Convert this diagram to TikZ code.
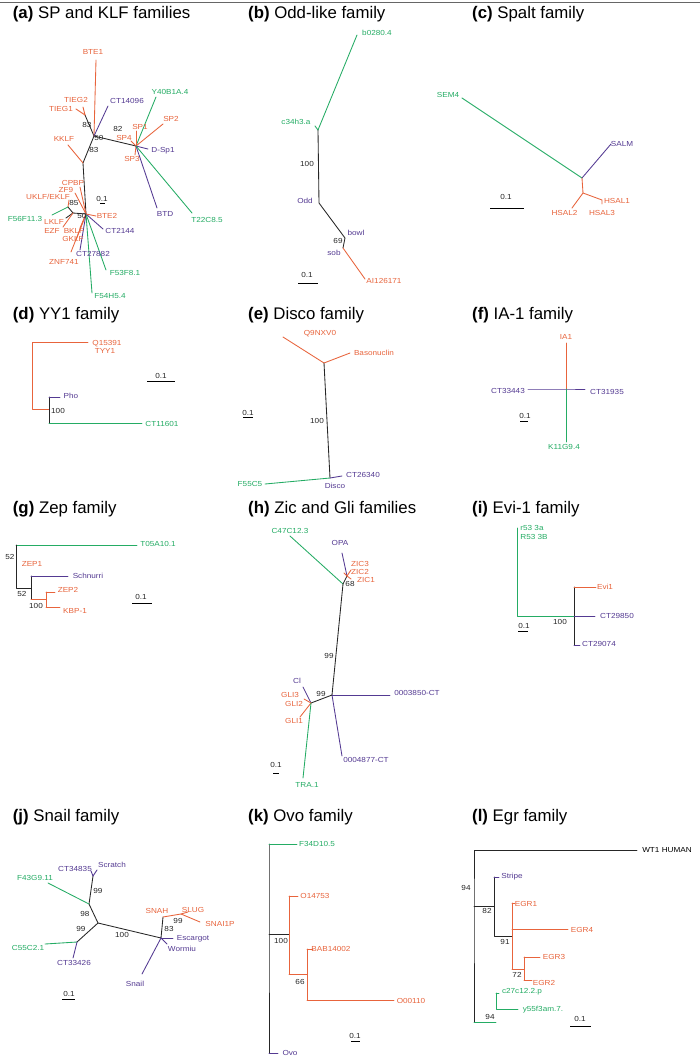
\documentclass[tikz,border=0pt]{standalone}
\usepackage{fontspec}
\setmainfont{Liberation Sans}
\newfontfamily\labfam[FakeStretch=1.12]{Liberation Sans}
\newcommand\labfont{\labfam\fontsize{7.3}{8.5}\selectfont}
\newcommand\ttlfont{\fontsize{16.8}{19}\selectfont}
\definecolor{orng}{RGB}{232,100,60}
\definecolor{purp}{RGB}{84,58,146}
\definecolor{grn}{RGB}{36,172,100}
\tikzset{
  lo/.style={font=\labfont, inner sep=0pt, text=orng},
  lp/.style={font=\labfont, inner sep=0pt, text=purp},
  lg/.style={font=\labfont, inner sep=0pt, text=grn},
  lk/.style={font=\labfont, inner sep=0pt, text=black},
  num/.style={font=\labfont, inner sep=0pt, text=black!85},
  ttl/.style={font=\ttlfont, anchor=base west, inner sep=0pt},
  br/.style={line width=0.85pt, line cap=round, line join=round},
  ob/.style={br, draw=orng},
  pb/.style={br, draw=purp},
  gb/.style={br, draw=grn},
  kb/.style={br, draw=black!85},
  sbar/.style={line width=0.9pt, draw=black},
}
\begin{document}
\begin{tikzpicture}[x=1pt,y=-1pt]
\fill[white] (0,0) rectangle (700,1061);
\useasboundingbox (0,0) rectangle (700,1061);
\draw[black!60, line width=0.7pt] (0,2) -- (700,2);

% ---------------- titles
\node[ttl] (ta) at (12.7,18) {\textbf{(a)} SP and KLF families};
\node[ttl] (tb) at (248,18) {\textbf{(b)} Odd-like family};
\node[ttl] (tc) at (472,18) {\textbf{(c)} Spalt family};
\node[ttl] (td) at (12.7,319) {\textbf{(d)} YY1 family};
\node[ttl] (te) at (248,319) {\textbf{(e)} Disco family};
\node[ttl] (tf) at (472,319) {\textbf{(f)} IA-1 family};
\node[ttl] (tg) at (12.7,513) {\textbf{(g)} Zep family};
\node[ttl] (th) at (248,513) {\textbf{(h)} Zic and Gli families};
\node[ttl] (ti) at (472,513) {\textbf{(i)} Evi-1 family};
\node[ttl] (tj) at (12.7,821) {\textbf{(j)} Snail family};
\node[ttl] (tk) at (248,821) {\textbf{(k)} Ovo family};
\node[ttl] (tl) at (472,821) {\textbf{(l)} Egr family};

% ---------------- (a)
\coordinate (aN1) at (94,136);
\coordinate (aT) at (85,115);
\coordinate (aS) at (136,146);
\coordinate (aK) at (83,163);
\coordinate (aN2) at (86,214);
\coordinate (aZ) at (68,207);
\coordinate (aL) at (73,213);
\draw[kb] (aT) -- (aN1) -- (aS);
\draw[kb] (aN1) -- (aK) -- (aN2);
\draw[kb] (aZ) -- (aL) -- (aN2);
\draw[ob] (aN1) -- (96,60) coordinate (aBTE1);
\draw[pb] (aN1) -- (108,106) coordinate (aCT14096);
\draw[ob] (aT) -- (83,107) coordinate (aTIEG2);
\draw[ob] (aT) -- (76,109) coordinate (aTIEG1);
\draw[ob] (aK) -- (68,145) coordinate (aKKLF);
\draw[ob] (aN2) -- (80,187) coordinate (aCPBP);
\draw[ob] (aN2) -- (75,193) coordinate (aZF9);
\draw[ob] (aZ) -- (69,200) coordinate (aUKLF);
\draw[gb] (aZ) -- (52,215) coordinate (aF56);
\draw[kb] (aL) -- (66,218) coordinate (aLKLF);
\draw[ob] (aL) -- (63,227) coordinate (aEZF);
\draw[ob] (aN2) -- (80,228) coordinate (aBKLF);
\draw[ob] (aN2) -- (76,240) coordinate (aGKLF);
\draw[ob] (aN2) -- (71,252) coordinate (aZNF);
\draw[pb] (aN2) -- (80,250) coordinate (aCT27882);
\draw[gb] (aN2) -- (92,293) coordinate (aF54);
\draw[gb] (aN2) -- (106,270) coordinate (aF53);
\draw[pb] (aN2) -- (103,229) coordinate (aCT2144);
\draw[ob] (aN2) -- (96,216) coordinate (aBTE2);
\draw[gb] (aS) -- (156,97) coordinate (aY40);
\draw[ob] (aS) -- (163,124) coordinate (aSP2);
\draw[ob] (aS) -- (136,131) coordinate (aSP1);
\draw[ob] (aS) -- (131,141) coordinate (aSP4);
\draw[pb] (aS) -- (148,149) coordinate (aDSp1);
\draw[ob] (aS) -- (135,155) coordinate (aSP3);
\draw[pb] (aS) -- (157,208) coordinate (aBTD);
\draw[gb] (aS) -- (192,213) coordinate (aT22);
\node[lo] (aBTE1l) at (93,52) {BTE1};
\node[lo] (aTIEG2l) at (76,100) {TIEG2};
\node[lo] (aTIEG1l) at (61,109) {TIEG1};
\node[lp] (aCT14096l) at (127,101) {CT14096};
\node[lg] (aY40l) at (170,92) {Y40B1A.4};
\node[lo] (aSP2l) at (171,119) {SP2};
\node[lo] (aSP1l) at (140,127) {SP1};
\node[num] (an82) at (118,129) {82};
\node[lo] (aSP4l) at (124,138) {SP4};
\node[num] (an50a) at (99,138) {50};
\node[num] (an83a) at (87,125) {83};
\node[lo] (aKKLFl) at (64,139) {KKLF};
\node[lp] (aDSp1l) at (163,151) {D-Sp1};
\node[num] (an83b) at (94,150) {83};
\node[lo] (aSP3l) at (132,159) {SP3};
\node[lo] (aCPBPl) at (73,183) {CPBP};
\node[lo] (aZF9l) at (66,190) {ZF9};
\node[lo] (aUKLFl) at (48,197) {UKLF/EKLF};
\node[num] (an85) at (74,203) {85};
\node[num] (asc) at (102,199) {0.1};
\draw[sbar] (100,203) -- (105,203);
\node[lg] (aF56l) at (25,219) {F56F11.3};
\node[num] (an50b) at (82,216) {50};
\node[lo] (aBTE2l) at (107,216) {BTE2};
\node[lp] (aBTDl) at (165,214) {BTD};
\node[lg] (aT22l) at (207,220) {T22C8.5};
\node[lo] (aLKLFl) at (54,222) {LKLF};
\node[lp] (aCT2144l) at (120,231) {CT2144};
\node[lo] (aEZFl) at (52,231) {EZF};
\node[lo] (aBKLFl) at (74,231) {BKLF};
\node[lo] (aGKLFl) at (73,239) {GKLF};
\node[lp] (aCT27882l) at (93,254) {CT27882};
\node[lo] (aZNFl) at (64,262) {ZNF741};
\node[lg] (aF53l) at (125,273) {F53F8.1};
\node[lg] (aF54l) at (110,296) {F54H5.4};

% ---------------- (b)
\coordinate (bA) at (318,130);
\coordinate (bB) at (319,203);
\coordinate (bC) at (345,238);
\coordinate (bD) at (343,248);
\draw[gb] (bA) -- (357,35) coordinate (bb0280);
\draw[gb] (bA) -- (315,126) coordinate (bc34);
\draw[kb] (bA) -- (bB) -- (bC) -- (bD);
\draw[ob] (bD) -- (365,279) coordinate (bAI);
\node[lg] (bb0280l) at (377,33) {b0280.4};
\node[lg] (bc34l) at (296,122) {c34h3.a};
\node[num] (bn100) at (307,164) {100};
\node[lp] (bOddl) at (305,201) {Odd};
\node[lp] (bbowll) at (356,233) {bowl};
\node[num] (bn69) at (338,241) {69};
\node[lp] (bsobl) at (334,253) {sob};
\node[num] (bsc) at (307,275) {0.1};
\draw[sbar] (298,283) -- (318,283);
\node[lo] (bAIl) at (384,281) {AI126171};

% ---------------- (c)
\coordinate (cP) at (582,178);
\coordinate (cQ) at (583,193);
\draw[gb] (cP) -- (462,98) coordinate (cSEM4);
\draw[pb] (cP) -- (611,144) coordinate (cSALM);
\draw[ob] (cP) -- (cQ);
\draw[ob] (cQ) -- (572,208) coordinate (cH2);
\draw[ob] (cQ) -- (602,200) -- (602,204) coordinate (cH13);
\node[lg] (cSEM4l) at (448,95) {SEM4};
\node[lp] (cSALMl) at (622,144) {SALM};
\node[lo] (cH1l) at (617,201) {HSAL1};
\node[lo] (cH2l) at (564.5,213) {HSAL2};
\node[lo] (cH3l) at (602,213) {HSAL3};
\node[num] (csc) at (506,197) {0.1};
\draw[sbar] (490,208) -- (524,208);

% ---------------- (d)
\coordinate (dA) at (32,342);
\coordinate (dB) at (32,409);
\coordinate (dC) at (49,409);
\coordinate (dP) at (49,397);
\coordinate (dQ) at (49,423);
\draw[ob] (88,342) coordinate (dQ15) -- (dA) -- (dB) -- (dC);
\draw[kb] (dP) -- (dQ);
\draw[pb] (dP) -- (60,397) coordinate (dPho);
\draw[gb] (dQ) -- (142,423) coordinate (dCT);
\node[lo] (dQ15l) at (107,344) {Q15391};
\node[lo] (dTYY1l) at (105,351) {TYY1};
\node[num] (dsc) at (161,376) {0.1};
\draw[sbar] (147,381) -- (175,381);
\node[lp] (dPhol) at (71,396) {Pho};
\node[num] (dn100) at (58,411) {100};
\node[lg] (dCTl) at (162,424) {CT11601};

% ---------------- (e)
\coordinate (eE) at (324,363);
\coordinate (eF) at (330,478);
\draw[ob] (eE) -- (283,337) coordinate (eQ9);
\draw[ob] (eE) -- (350,353) coordinate (eBas);
\draw[kb] (eE) -- (eF);
\draw[gb] (eF) -- (265,484) coordinate (eF55);
\draw[pb] (eF) -- (342,476) coordinate (eCT);
\node[lo] (eQ9l) at (320,334) {Q9NXV0};
\node[lo] (eBasl) at (374,353) {Basonuclin};
\node[num] (en100) at (317,421) {100};
\node[num] (esc) at (248,413) {0.1};
\draw[sbar] (243,417.5) -- (253,417.5);
\node[lg] (eF55l) at (250,484) {F55C5};
\node[lp] (eCTl) at (363,475) {CT26340};
\node[lp] (eDiscol) at (335,486) {Disco};

% ---------------- (f)
\coordinate (fC) at (566,389);
\draw[ob] (fC) -- (566,343) coordinate (fIA1);
\draw[pb] (528,389) coordinate (fCT3) -- (fC) -- (585,389) coordinate (fCT1);
\draw[gb] (fC) -- (566,442) coordinate (fK11);
\node[lo] (fIA1l) at (566,337) {IA1};
\node[lp] (fCT3l) at (508,391) {CT33443};
\node[lp] (fCT1l) at (607,392) {CT31935};
\node[num] (fsc) at (525,416) {0.1};
\draw[sbar] (520,421) -- (528,421);
\node[lg] (fK11l) at (564,447) {K11G9.4};

% ---------------- (g)
\coordinate (gA) at (16,545);
\coordinate (gB) at (16,588);
\coordinate (gC) at (31,588);
\coordinate (gD) at (31,576);
\coordinate (gE) at (31,599);
\coordinate (gF) at (46,599);
\coordinate (gG) at (46,592);
\coordinate (gH) at (46,607);
\draw[gb] (gA) -- (137,545) coordinate (gT05);
\draw[kb] (gA) -- (gB) -- (gC);
\draw[kb] (gD) -- (gE);
\draw[pb] (gD) -- (68,576) coordinate (gSch);
\draw[ob] (gE) -- (gF);
\draw[ob] (gG) -- (gH);
\draw[ob] (gG) -- (55,592) coordinate (gZEP2);
\draw[ob] (gH) -- (60,607) coordinate (gKBP);
\node[lg] (gT05l) at (158,544) {T05A10.1};
\node[num] (gn52a) at (10,557) {52};
\node[lo] (gZEP1l) at (32,564) {ZEP1};
\node[lp] (gSchl) at (88,576) {Schnurri};
\node[lo] (gZEP2l) at (68,590) {ZEP2};
\node[num] (gn52b) at (22,594) {52};
\node[num] (gsc) at (141,597) {0.1};
\draw[sbar] (132,603) -- (152,603);
\node[num] (gn100) at (36,606) {100};
\node[lo] (gKBPl) at (75,611) {KBP-1};

% ---------------- (h)
\coordinate (hA) at (343,584);
\coordinate (hZ) at (347,576);
\coordinate (hB) at (332,695);
\coordinate (hC) at (311,703);
\draw[gb] (hA) -- (290,536) coordinate (hC47);
\draw[kb] (hA) -- (hZ);
\draw[pb] (hZ) -- (342,553) coordinate (hOPA);
\draw[ob] (hZ) -- (351,570) coordinate (hZIC3);
\draw[ob] (hZ) -- (344,573) coordinate (hZIC2);
\draw[ob] (hZ) -- (351,579) coordinate (hZIC1);
\draw[kb] (hA) -- (hB);
\draw[pb] (hB) -- (390,695) coordinate (h3850);
\draw[pb] (hB) -- (342,756) coordinate (h4877);
\draw[kb] (hB) -- (hC);
\draw[pb] (hC) -- (303,687) coordinate (hCl);
\draw[ob] (hC) -- (304,699) coordinate (hGLI3);
\draw[ob] (hC) -- (300,717) coordinate (hGLI1);
\draw[gb] (hC) -- (303,778) coordinate (hTRA);
\node[lg] (hC47l) at (290,531) {C47C12.3};
\node[lp] (hOPAl) at (340,543) {OPA};
\node[lo] (hZIC3l) at (360,564) {ZIC3};
\node[lo] (hZIC2l) at (360,572) {ZIC2};
\node[lo] (hZIC1l) at (366,580) {ZIC1};
\node[num] (hn68) at (350,584) {68};
\node[num] (hn99a) at (329,656) {99};
\node[lp] (hCll) at (297,681) {Cl};
\node[lo] (hGLI3l) at (290,695) {GLI3};
\node[num] (hn99b) at (321,694) {99};
\node[lp] (h3850l) at (417,693) {0003850-CT};
\node[lo] (hGLI2l) at (294,704) {GLI2};
\node[lo] (hGLI1l) at (294,721) {GLI1};
\node[lp] (h4877l) at (366,760) {0004877-CT};
\node[num] (hsc) at (276,765) {0.1};
\draw[sbar] (273,773) -- (279,773);
\node[lg] (hTRAl) at (307,785) {TRA.1};

% ---------------- (i)
\coordinate (iA) at (517,528);
\coordinate (iB) at (517,616);
\coordinate (iC) at (574,616);
\coordinate (iD) at (574,587);
\coordinate (iE) at (574,645);
\draw[gb] (iA) -- (iB) -- (iC);
\draw[kb] (iD) -- (iE);
\draw[ob] (iD) -- (596,587) coordinate (iEvi);
\draw[pb] (iC) -- (595,616) coordinate (iCT50);
\draw[pb] (iE) -- (580,645) coordinate (iCT74);
\node[lg] (ir53l) at (532,528) {r53 3a};
\node[lg] (iR53l) at (534,537) {R53 3B};
\node[lo] (iEvil) at (605,587) {Evi1};
\node[lp] (iCT50l) at (617,616) {CT29850};
\node[num] (in100) at (560,622) {100};
\node[num] (isc) at (524,626) {0.1};
\draw[sbar] (518,631) -- (528,631);
\node[lp] (iCT74l) at (599,644) {CT29074};

% ---------------- (j)
\coordinate (jC) at (98,923);
\coordinate (jU) at (89,904);
\coordinate (jV) at (93,876);
\coordinate (jL) at (77,942);
\coordinate (jR) at (161,938);
\coordinate (jW) at (163,917);
\coordinate (jX) at (181,914);
\draw[kb] (jV) -- (jU) -- (jC) -- (jL);
\draw[kb] (jC) -- (jR) -- (jW);
\draw[pb] (jV) -- (97,870) coordinate (jScr);
\draw[pb] (jV) -- (91,871) coordinate (jCT35);
\draw[gb] (jU) -- (48,883) coordinate (jF43);
\draw[gb] (jL) -- (45,944) coordinate (jC55);
\draw[pb] (jL) -- (73,958) coordinate (jCT26);
\draw[ob] (jW) -- (jX) -- (188,912) coordinate (jSLUG);
\draw[ob] (jX) -- (200,922) coordinate (jSNAI);
\draw[pb] (jR) -- (173,938) coordinate (jEsc);
\draw[pb] (jR) -- (167,944) coordinate (jWor);
\draw[pb] (jR) -- (142,974) coordinate (jSnail);
\node[lp] (jCT35l) at (75,869) {CT34835};
\node[lp] (jScrl) at (112,865) {Scratch};
\node[lg] (jF43l) at (35,878) {F43G9.11};
\node[num] (jn99a) at (98,891) {99};
\node[lo] (jSNAHl) at (157,911) {SNAH};
\node[lo] (jSLUGl) at (193,910) {SLUG};
\node[num] (jn98) at (85,914) {98};
\node[num] (jn99c) at (178,921) {99};
\node[lo] (jSNAIl) at (220,924) {SNAI1P};
\node[num] (jn99b) at (81,929) {99};
\node[num] (jn83) at (169,929) {83};
\node[num] (jn100) at (122,935) {100};
\node[lp] (jEscl) at (193,939) {Escargot};
\node[lg] (jC55l) at (28,948) {C55C2.1};
\node[lp] (jWorl) at (182,949) {Wormiu};
\node[lp] (jCT26l) at (74,963) {CT33426};
\node[lp] (jSnaill) at (135,984) {Snail};
\node[num] (jsc) at (69,994) {0.1};
\draw[sbar] (62,999) -- (75,999);

% ---------------- (k)
\coordinate (kA) at (269,844);
\coordinate (kB) at (269,934);
\coordinate (kZ) at (269,1053);
\coordinate (kC) at (289,934);
\coordinate (kD) at (289,896);
\coordinate (kE) at (289,974);
\coordinate (kF) at (307,974);
\coordinate (kG) at (307,949);
\coordinate (kH) at (307,1000);
\draw[kb] (kA) -- (kB) -- (kZ);
\draw[gb] (kA) -- (297,844) coordinate (kF34);
\draw[kb] (kB) -- (kC);
\draw[ob] (kD) -- (kE);
\draw[ob] (kD) -- (298,896) coordinate (kO14);
\draw[ob] (kE) -- (kF);
\draw[ob] (kG) -- (kH);
\draw[ob] (kG) -- (313,949) coordinate (kBAB);
\draw[ob] (kH) -- (394,1000) coordinate (kO00);
\draw[pb] (kZ) -- (278,1053) coordinate (kOvo);
\node[lg] (kF34l) at (317,844) {F34D10.5};
\node[lo] (kO14l) at (315,896) {O14753};
\node[num] (kn100) at (281,941) {100};
\node[lo] (kBABl) at (331,949) {BAB14002};
\node[num] (kn66) at (300,982) {66};
\node[lo] (kO00l) at (411,1001) {O00110};
\node[num] (ksc) at (355,1036) {0.1};
\draw[sbar] (351,1041) -- (360,1041);
\node[lp] (kOvol) at (290,1053) {Ovo};

% ---------------- (l)
\coordinate (lA) at (474,850);
\coordinate (lB) at (474,906);
\coordinate (lZ) at (474,1022);
\coordinate (lC) at (494,906);
\coordinate (lD) at (494,877);
\coordinate (lE) at (494,936);
\coordinate (lF) at (512,936);
\coordinate (lG) at (512,903);
\coordinate (lH) at (512,969);
\coordinate (lI) at (512,929);
\coordinate (lJ) at (524,969);
\coordinate (lK) at (524,957);
\coordinate (lL) at (524,980);
\coordinate (lM) at (496,993);
\coordinate (lN) at (496,1009);
\draw[kb] (637,850) coordinate (lWT1) -- (lA) -- (lB) -- (lZ);
\draw[kb] (lB) -- (lC);
\draw[kb] (lD) -- (lE) -- (lF);
\draw[pb] (lD) -- (499,877) coordinate (lStr);
\draw[ob] (lG) -- (lH);
\draw[ob] (lG) -- (515,903) coordinate (lEGR1);
\draw[ob] (lI) -- (568,929) coordinate (lEGR4);
\draw[ob] (lH) -- (lJ);
\draw[ob] (lK) -- (lL);
\draw[ob] (lK) -- (540,957) coordinate (lEGR3);
\draw[ob] (lL) -- (532,980) coordinate (lEGR2);
\draw[gb] (lZ) -- (496,1022) coordinate (lG94);
\draw[gb] (lM) -- (lN) -- (518,1009) coordinate (ly55);
\draw[gb] (lM) -- (499,993) coordinate (lc27);
\node[lk] (lWT1l) at (667,850) {WT1 HUMAN};
\node[num] (ln94a) at (466,888) {94};
\node[lp] (lStrl) at (512,877) {Stripe};
\node[lo] (lEGR1l) at (526,904) {EGR1};
\node[num] (ln82) at (487,911) {82};
\node[lo] (lEGR4l) at (582,930) {EGR4};
\node[num] (ln91) at (505,942) {91};
\node[lo] (lEGR3l) at (554,957) {EGR3};
\node[num] (ln72) at (517,975) {72};
\node[lo] (lEGR2l) at (544,983) {EGR2};
\node[lg] (lc27l) at (522,992) {c27c12.2.p};
\node[lg] (ly55l) at (543,1010) {y55f3am.7.};
\node[num] (ln94b) at (490,1017) {94};
\node[num] (lsc) at (580,1019) {0.1};
\draw[sbar] (570,1026) -- (591,1026);
\end{tikzpicture}
\end{document}
